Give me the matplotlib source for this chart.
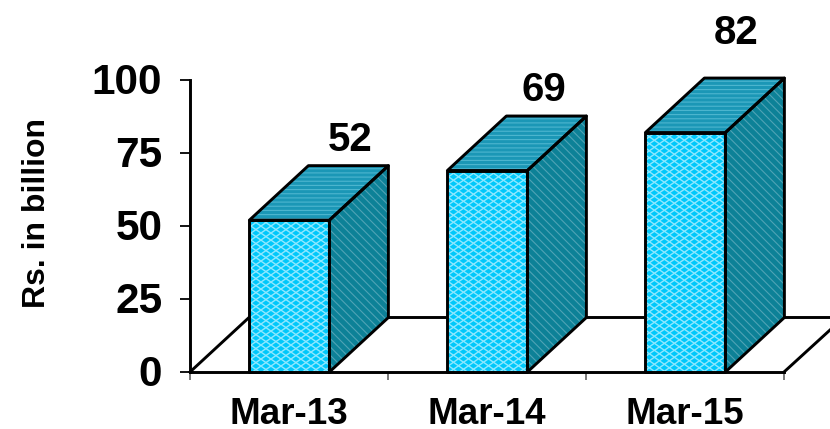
import matplotlib
matplotlib.use("Agg")
import numpy as np
import matplotlib.pyplot as plt
from matplotlib.patches import Polygon
from matplotlib.collections import LineCollection
from matplotlib.transforms import IdentityTransform, ScaledTranslation

plt.rcParams['font.family'] = ['Liberation Sans', 'DejaVu Sans']
plt.rcParams['font.weight'] = 'bold'
plt.rcParams['hatch.linewidth'] = 0.8

categories = ["Mar-13", "Mar-14", "Mar-15"]
values = [52, 69, 82]
y_ticks = [0, 25, 50, 75, 100]
# value label positions above each block top, in value units
label_lift = [8.8, 8.8, 15.5]
label_shift = [0.01, -0.015, -0.04]

W, H = 830, 429
bar_w = 80 / 198
dx = 59 / 198
dy = 54.5 / 2.92
EDGE = 2.1


def outline(ax, pts):
    ax.add_patch(Polygon(pts, closed=True, fc='none', ec='black', lw=EDGE, joinstyle='round', zorder=6, clip_on=False))


def face(ax, pts, fill, hatch_col, hatch):
    ax.add_patch(Polygon(pts, closed=True, fc=fill, ec='none', zorder=3, clip_on=False))
    ax.add_patch(Polygon(pts, closed=True, fc='none', ec=hatch_col, lw=0, hatch=hatch, zorder=4, clip_on=False))
    outline(ax, pts)


def lattice_face(ax, pts):
    # front face: cyan with a stretched diamond lattice, 10 x 7 px
    base = Polygon(pts, closed=True, fc='#00c8fb', ec='none', zorder=3, clip_on=False)
    ax.add_patch(base)
    px = ax.transData.transform(pts)
    xa, xb = px[:, 0].min(), px[:, 0].max()
    ya, yb = px[:, 1].min(), px[:, 1].max()
    step, slope = 10.0, 0.7
    segs = []
    for c in np.arange(xa - (yb - ya) / slope - step, xb + step, step):
        run = (yb - ya) / slope
        segs.append([(c, ya), (c + run, yb)])
        segs.append([(c + run, ya), (c, yb)])
    lines = LineCollection(segs, colors='#8fe8ff', linewidths=1.0, transform=IdentityTransform(), zorder=4)
    ax.add_collection(lines, autolim=False)
    lines.set_clip_path(base)
    outline(ax, pts)


fig = plt.figure(figsize=(W / 100, H / 100), dpi=100)
ax = fig.add_axes([190 / W, 1 - 372 / H, 594 / W, 292 / H])
ax.set_xlim(0, 3)
ax.set_ylim(0, 100)

for s in ['top', 'right']:
    ax.spines[s].set_visible(False)
for s in ['left', 'bottom']:
    ax.spines[s].set_linewidth(EDGE)

ax.set_yticks(y_ticks)
ax.set_xticks([0, 1, 2, 3])
ax.set_xticklabels([])
ax.tick_params(axis='y', length=7.5, width=1.3, labelsize=30.5, pad=12.5)
ax.tick_params(axis='x', length=6, width=1.1, color='#555555')
# nudge the value axis numbers down a little
for t in ax.get_yticklabels():
    t.set_verticalalignment('center')
    t.set_transform(t.get_transform() + ScaledTranslation(0, -3 / 100, fig.dpi_scale_trans))

# floor of the 3d box
ax.plot([0, dx, 3.24], [0, dy, dy], color='black', lw=EDGE, zorder=2, clip_on=False)
ax.plot([3, 3 + 46 / 198], [0, 42 / 2.92], color='black', lw=EDGE, zorder=2, clip_on=False)

for i, v in enumerate(values):
    x0 = i + 0.5 - bar_w / 2 + 0.002
    x1 = x0 + bar_w
    # side, top, front
    face(ax, [(x1, 0), (x1 + dx, dy), (x1 + dx, v + dy), (x1, v)], '#0d8197', '#4fa3b5', '\\\\\\\\')
    face(ax, [(x0, v), (x1, v), (x1 + dx, v + dy), (x0 + dx, v + dy)], '#1b97b6', '#4db6cf', '----')
    lattice_face(ax, [(x0, 0), (x1, 0), (x1, v), (x0, v)])
    ax.text(x0 + bar_w / 2 + dx + label_shift[i], v + dy + label_lift[i], str(v), ha='center', va='center',
            fontsize=29, fontweight='bold', clip_on=False)
    ax.text(i + 0.5, -14.5, categories[i], ha='center', va='center', fontsize=26.5,
            fontweight='bold', clip_on=False)

fig.text(37 / W, 1 - 213 / H, "Rs. in billion", rotation=90, ha='center', va='center',
         fontsize=23, fontweight='bold')

fig.savefig("out.png", dpi=100)
